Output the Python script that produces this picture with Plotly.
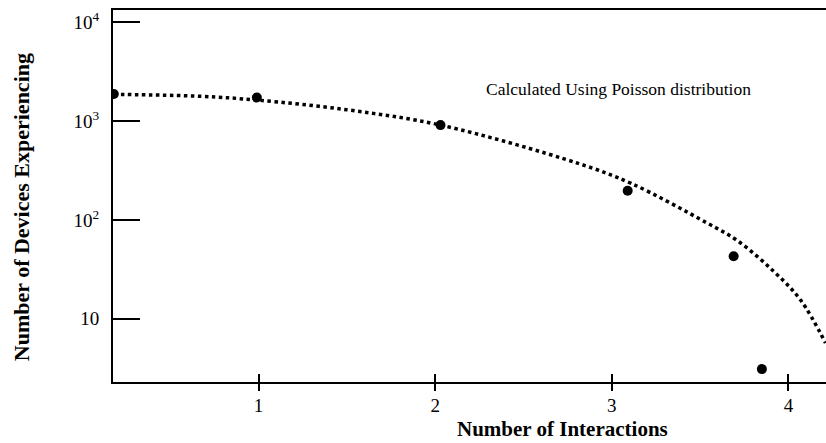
import plotly.graph_objects as go

# Measured devices (dots)
interactions = [0.18, 0.99, 2.03, 3.09, 3.69, 3.85]
devices = [1880, 1730, 910, 197, 43, 3.1]

# Poisson-calculated curve (dotted)
poisson_x = [0.18, 0.67, 0.99, 1.50, 2.03, 2.81, 3.11, 3.54, 3.71, 3.91, 4.07, 4.21]
poisson_y = [1862, 1780, 1630, 1300, 910, 373, 234, 93, 62, 31, 15.4, 5.7]

x_ticks = [1, 2, 3, 4]
y_ticks = [10, 100, 1000, 10000]
y_ticktext = ["10", "10<sup>2</sup>", "10<sup>3</sup>", "10<sup>4</sup>"]

FONT = "Liberation Serif, Times New Roman, serif"
x_range = [0.1755, 4.213]
y_range = [0.361, 4.123]

fig = go.Figure()
fig.add_trace(go.Scatter(
    x=poisson_x, y=poisson_y, mode="lines",
    line=dict(color="black", width=3.5, dash="3.5px,3.5px", shape="spline", smoothing=1.0),
    showlegend=False, hoverinfo="skip"))
fig.add_trace(go.Scatter(
    x=interactions, y=devices, mode="markers",
    marker=dict(color="black", size=10, symbol="circle"),
    showlegend=False))
fig.add_trace(go.Scatter(x=[], y=[], xaxis="x2", showlegend=False))

fig.update_layout(
    width=826, height=443,
    margin=dict(l=113, r=0, t=10, b=61, autoexpand=False),
    paper_bgcolor="white", plot_bgcolor="white",
    font=dict(family=FONT, color="black", size=18),
    xaxis=dict(
        range=x_range, tickvals=x_ticks, ticktext=[str(v) for v in x_ticks],
        ticks="inside", ticklen=8, tickwidth=1.5, tickcolor="black",
        showline=True, linewidth=2, linecolor="black", mirror=True,
        showgrid=False, zeroline=False, ticklabelstandoff=5, automargin=False,
        tickfont=dict(family=FONT, size=19, color="black")),
    xaxis2=dict(
        range=x_range, overlaying="x", anchor="y", side="bottom",
        tickvals=x_ticks, ticks="outside", ticklen=8, tickwidth=1.5, tickcolor="black",
        showticklabels=False, showline=False, showgrid=False, zeroline=False,
        automargin=False),
    yaxis=dict(
        type="log", range=y_range, tickvals=y_ticks, ticktext=y_ticktext,
        ticks="inside", ticklen=27, tickwidth=1.5, tickcolor="black",
        showline=True, linewidth=2, linecolor="black",
        showgrid=False, zeroline=False, ticklabelstandoff=8, automargin=False,
        tickfont=dict(family=FONT, size=19, color="black")),
    annotations=[
        dict(text="<b>Number of Interactions</b>", xref="paper", yref="paper",
             x=0.631, y=-0.125, xanchor="center", yanchor="middle", showarrow=False,
             font=dict(family=FONT, size=21, color="black")),
        dict(text="<b>Number of Devices Experiencing</b>", xref="paper", yref="paper",
             x=-0.129, y=0.470, xanchor="center", yanchor="middle", showarrow=False,
             textangle=-90, font=dict(family=FONT, size=22, color="black")),
        dict(text="Calculated Using Poisson distribution", xref="paper", yref="paper",
             x=0.709, y=0.788, xanchor="center", yanchor="middle", showarrow=False,
             font=dict(family=FONT, size=17.5, color="black")),
    ],
)

fig.write_html("out.html", config={"displayModeBar": False},
               post_script="document.body.style.margin='0px';")
